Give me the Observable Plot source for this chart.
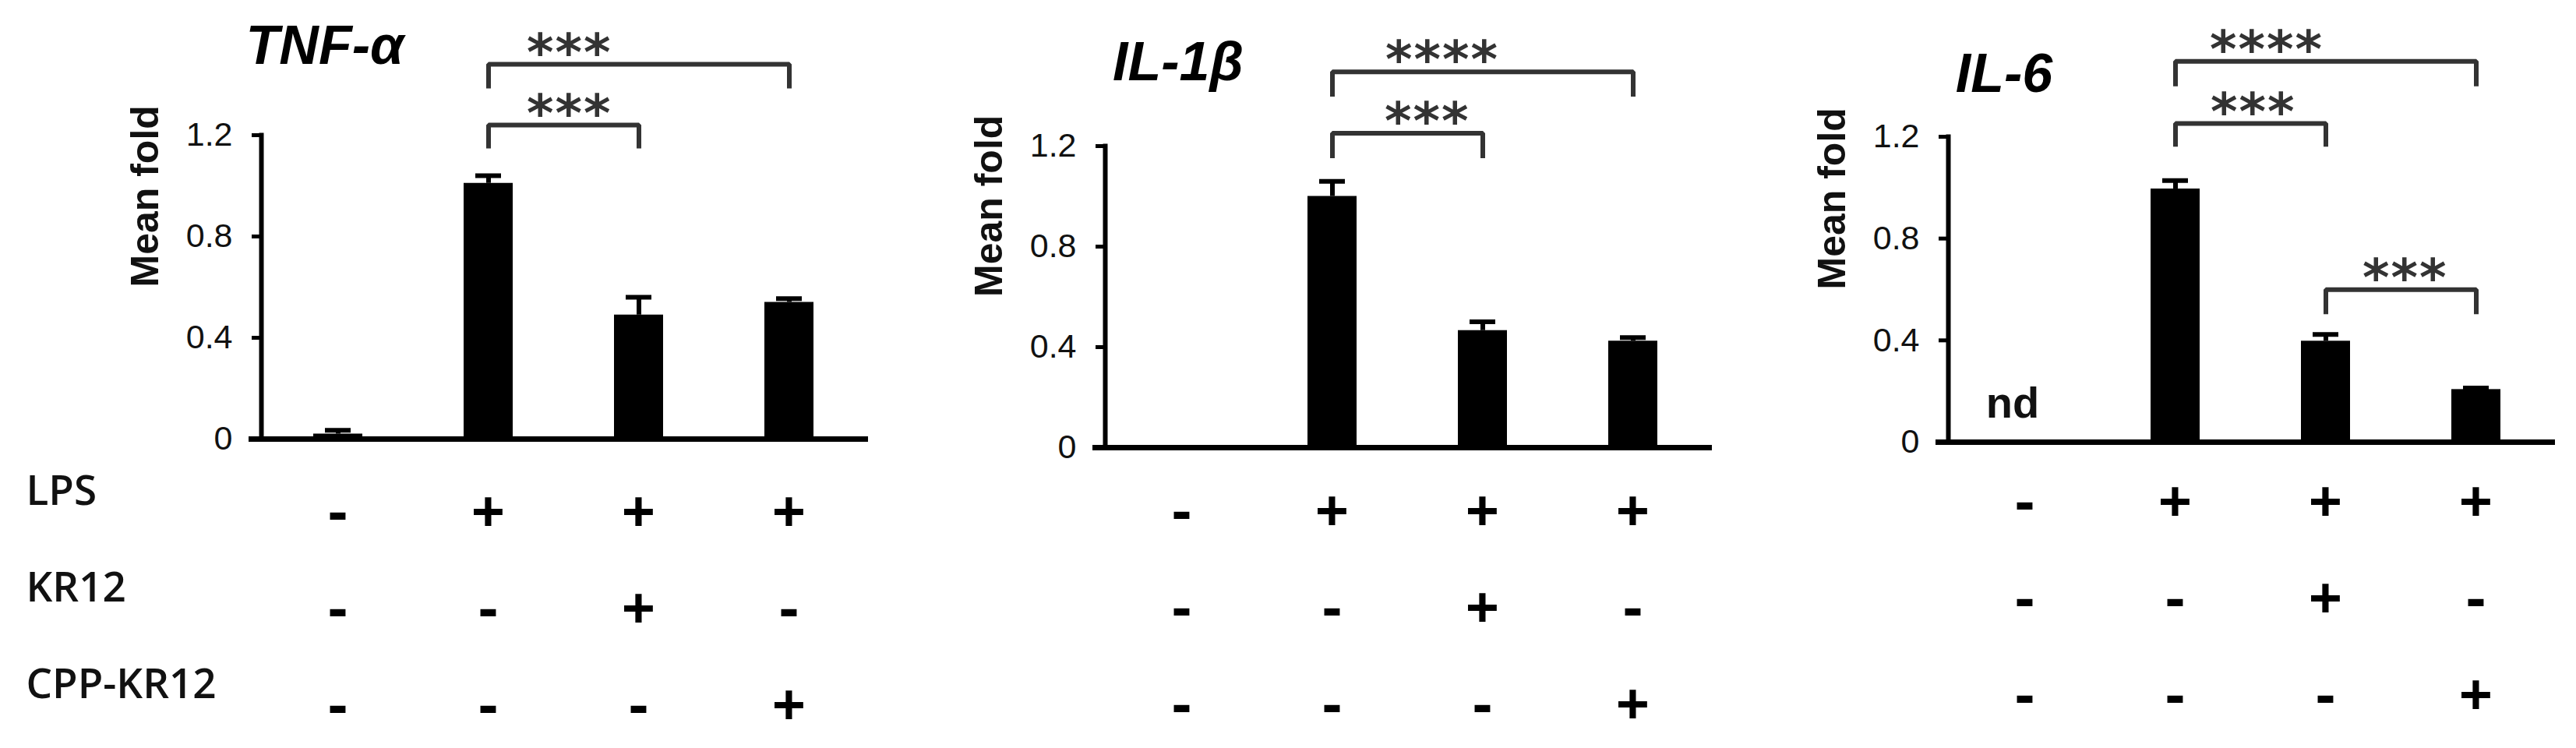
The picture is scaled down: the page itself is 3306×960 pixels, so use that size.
<!DOCTYPE html>
<html><head><meta charset="utf-8">
<script src="https://cdn.jsdelivr.net/npm/d3@7"></script>
<script src="https://cdn.jsdelivr.net/npm/@observablehq/plot@0.6"></script>
<style>
html,body{margin:0;padding:0;background:#fff;}
#root{position:relative;width:3306px;height:960px;overflow:hidden;background:#fff;}
</style></head><body><div id="root"></div>
<script>
// ---- data ----
const conditions = ["Control", "LPS", "LPS+KR12", "LPS+CPP-KR12"];
const treatments = ["LPS", "KR12", "CPP-KR12"];
const lpsRow  = ["-", "+", "+", "+"];
const kr12Row = ["-", "-", "+", "-"];
const cppRow  = ["-", "-", "-", "+"];
const genes = ["TNF-α", "IL-1β", "IL-6"];
const tnfMean  = [0.02, 1.01, 0.49, 0.54];
const tnfErr   = [0.015, 0.03, 0.07, 0.015];
const il1bMean = [0, 1.0, 0.466, 0.424];
const il1bErr  = [0, 0.06, 0.035, 0.014];
const il6Mean  = [null, 0.995, 0.397, 0.207];   // null = not detected (nd)
const il6Err   = [null, 0.033, 0.026, 0.006];
const yTicks = [0, 0.4, 0.8, 1.2];
const tnfSig = [
  {from: "LPS", to: "LPS+CPP-KR12", level: 1.48, drop: 1.385, stars: "***"},
  {from: "LPS", to: "LPS+KR12", level: 1.24, drop: 1.148, stars: "***"}
];
const il1bSig = [
  {from: "LPS", to: "LPS+CPP-KR12", level: 1.495, drop: 1.397, stars: "****"},
  {from: "LPS", to: "LPS+KR12", level: 1.251, drop: 1.152, stars: "***"}
];
const il6Sig = [
  {from: "LPS", to: "LPS+CPP-KR12", level: 1.496, drop: 1.398, stars: "****"},
  {from: "LPS", to: "LPS+KR12", level: 1.252, drop: 1.161, stars: "***"},
  {from: "LPS+KR12", to: "LPS+CPP-KR12", level: 0.599, drop: 0.503, stars: "***"}
];

const means = [tnfMean, il1bMean, il6Mean];
const errs = [tnfErr, il1bErr, il6Err];
const sigs = [tnfSig, il1bSig, il6Sig];
const rows = [lpsRow, kr12Row, cppRow];

// ---- layout (pixels / offsets only) ----
const layout = [
  {left: 0,    top: 173, zero: 563, tableTop: 596, titleY: 1.552, titleDx: -17, starDx: [49, 49]},
  {left: 1083, top: 187, zero: 574, tableTop: 595, titleY: 1.532, titleDx: -5,  starDx: [68, 67]},
  {left: 2165, top: 175, zero: 567, tableTop: 583, titleY: 1.445, titleDx: -27, starDx: [44, 45, 47]}
];
const W = 1110, ML = 335;
const xOpts = {domain: conditions, paddingInner: 0.675, paddingOuter: 0.3375, axis: null};
const SANS = "Liberation Sans, Arial, sans-serif";
const root = document.getElementById("root");

function place(svg, left, top) {
  svg.style.position = "absolute";
  svg.style.left = left + "px";
  svg.style.top = top + "px";
  svg.style.background = "transparent";
  svg.style.overflow = "visible";
  svg.style.maxWidth = "none";
  svg.style.fontFamily = SANS;
  root.appendChild(svg);
}

for (let i = 0; i < 3; i++) {
  const L = layout[i];
  const data = conditions.map((c, j) => ({c, m: means[i][j], e: errs[i][j]}));
  const shown = data.filter(d => d.m != null);
  const withErr = shown.filter(d => d.e > 0);
  const nd = data.filter(d => d.m == null);
  const sig = sigs[i];
  const pts = sig.flatMap((b, k) => [
    {k, x: b.from, y: b.drop}, {k, x: b.from, y: b.level},
    {k, x: b.to, y: b.level}, {k, x: b.to, y: b.drop}
  ]);
  const MB = 40;
  const chart = Plot.plot({
    width: W, height: L.zero + MB,
    marginLeft: ML, marginRight: 0, marginTop: L.top, marginBottom: MB,
    x: xOpts,
    y: {domain: [0, 1.2], axis: null},
    marks: [
      Plot.barY(shown, {x: "c", y: "m", fill: "#000"}),
      Plot.ruleX(withErr, {x: "c", y1: "m", y2: d => d.m + d.e, stroke: "#000", strokeWidth: 6}),
      Plot.tickY(withErr, {x: "c", y: d => d.m + d.e, stroke: "#000", strokeWidth: 6, insetLeft: 15, insetRight: 15}),
      Plot.frame({anchor: "left", stroke: "#000", strokeWidth: 6}),
      Plot.frame({anchor: "bottom", stroke: "#000", strokeWidth: 7, insetLeft: -13}),
      Plot.axisY({ticks: yTicks, tickFormat: d => d === 0 ? "0" : d.toFixed(1), tickSize: 12, tickPadding: 25,
                  fontSize: 43, strokeWidth: 5, stroke: "#000", fill: "#111", label: null}),
      Plot.text(["Mean fold"], {text: d => d, frameAnchor: "left", rotate: -90, dx: -149,
                  fontSize: 50, fontWeight: "bold", fill: "#111"}),
      Plot.text([genes[i]], {x: [conditions[0]], y: [L.titleY], text: d => d, dx: L.titleDx,
                  fontSize: 70, fontWeight: "bold", fontStyle: "italic", fill: "#000"}),
      Plot.line(pts, {x: "x", y: "y", z: "k", stroke: "#333", strokeWidth: 6, strokeLinejoin: "miter", strokeLinecap: "butt"}),
      ...sig.map((b, k) => Plot.text([b], {x: "from", y: "level", text: "stars", textAnchor: "start",
                  dx: L.starDx[k], dy: -14, fontSize: 66, fontWeight: "bold", fontFamily: "DejaVu Sans", fill: "#333"})),
      Plot.text(nd, {x: "c", y: () => 0.15, text: () => "nd", dx: -16, fontSize: 56, fontWeight: "bold", fill: "#111"})
    ]
  });
  chart.querySelectorAll("text").forEach(t => {
    if (/^\*+$/.test(t.textContent.trim())) t.style.letterSpacing = "2px";
  });
  place(chart, L.left, 0);

  const cells = treatments.flatMap((t, r) => rows[r].map((s, j) => ({t, c: conditions[j], s})));
  const TH = 372;
  const tableMarks = [
    Plot.text(cells, {x: "c", y: "t", text: "s", fontSize: 76, fontWeight: "bold", fontFamily: "Open Sans", fill: "#000"})
  ];
  if (i === 0) {
    tableMarks.push(Plot.text(treatments, {y: d => d, text: d => d, frameAnchor: "left", textAnchor: "start",
      dx: -302, dy: -27, fontSize: 53, fontWeight: 600, fontFamily: "Open Sans", fill: "#111"}));
  }
  const table = Plot.plot({
    width: W, height: TH, marginLeft: ML, marginRight: 0, marginTop: 0, marginBottom: 0,
    x: xOpts,
    y: {type: "point", domain: treatments, padding: 0.5, axis: null},
    marks: tableMarks
  });
  place(table, L.left, L.tableTop);
}
</script>
</body></html>
